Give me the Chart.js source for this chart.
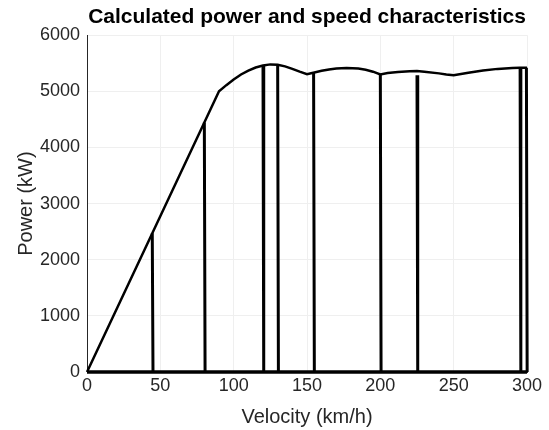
<!DOCTYPE html>
<html>
<head>
<meta charset="utf-8">
<script src="https://cdn.jsdelivr.net/npm/chart.js@4/dist/chart.umd.min.js"></script>
<style>
  html, body { margin: 0; padding: 0; background: #fff; }
  #wrap { width: 549px; height: 430px; }
</style>
</head>
<body>
<div id="wrap"><canvas id="myChart" width="549" height="430"></canvas></div>
<script>
// Огибающая мощности (скорость, км/ч -> мощность, кВт)
const envVelocity = [0, 45, 80, 90, 95, 100, 105, 110, 115, 120, 125, 130, 135, 140, 145, 150,
    155, 160, 165, 170, 177, 185, 190, 195, 200, 205, 212, 220, 225, 230, 240, 245, 250,
    260, 270, 280, 290, 295, 300];
const envPower = [0, 2500, 4444, 5000, 5110, 5210, 5300, 5370, 5425, 5460, 5480, 5475, 5445, 5400, 5350, 5305,
    5335, 5365, 5390, 5405, 5415, 5405, 5385, 5350, 5300, 5325, 5345, 5358, 5360, 5350, 5320, 5300, 5285,
    5330, 5370, 5400, 5415, 5418, 5420];

// Переключения передач: мощность падает до нуля
const shiftVelocity = [44.5, 80, 120, 130, 154.5, 200, 225, 295.3, 299.6];
const shiftTop = [2470, 4444, 5460, 5475, 5340, 5300, 5285, 5415, 5420];

// Короткие повторные участки у самого низа
const partVelocity = [120.7, 80.6];
const partTop = [1600, 1700];

const xTicks = [0, 50, 100, 150, 200, 250, 300];
const yTicks = [0, 1000, 2000, 3000, 4000, 5000, 6000];

const envData = envVelocity.map((v, i) => ({ x: v, y: envPower[i] }));

const shiftData = [];
shiftVelocity.forEach((v, i) => {
    shiftData.push({ x: v, y: shiftTop[i] });
    shiftData.push({ x: v + 0.5, y: 0 });
    shiftData.push({ x: v + 0.5, y: null });
});

const partData = [];
partVelocity.forEach((v, i) => {
    partData.push({ x: v, y: partTop[i] });
    partData.push({ x: v, y: 0 });
    partData.push({ x: v, y: null });
});

const baseData = [{ x: xTicks[0], y: 0 }, { x: xTicks[xTicks.length - 1], y: 0 }];

const axisColor = '#262626';
const font = 'Liberation Sans, Arial, Helvetica, sans-serif';

const lineSet = (data, width) => ({
    data: data,
    borderColor: '#000',
    borderWidth: width,
    pointRadius: 0,
    tension: 0,
    spanGaps: false,
    fill: false,
    clip: 4,
});

new Chart(document.getElementById('myChart'), {
    type: 'line',
    data: {
        datasets: [
            lineSet(baseData, 3.5),
            lineSet(envData, 2.5),
            lineSet(shiftData, 3),
            lineSet(partData, 1.6),
        ]
    },
    options: {
        responsive: false,
        animation: false,
        layout: { padding: { left: 0, right: 22, top: 0, bottom: 0 } },
        plugins: {
            legend: { display: false },
            tooltip: { enabled: false },
            title: {
                display: true,
                fullSize: false,
                text: 'Calculated power and speed characteristics',
                color: '#000',
                font: { family: font, size: 21, weight: 'bold' },
                padding: { top: 5, bottom: 5 },
            }
        },
        scales: {
            x: {
                type: 'linear',
                min: 0,
                max: 300,
                afterBuildTicks: (s) => { s.ticks = xTicks.map(v => ({ value: v })); },
                afterFit: (s) => { s.height = 58; },
                ticks: { color: axisColor, font: { family: font, size: 18 }, padding: 3, callback: (v) => String(v) },
                grid: { color: '#efefef', drawTicks: false },
                border: { display: true, color: axisColor, width: 1 },
                title: {
                    display: true,
                    text: 'Velocity (km/h)',
                    color: axisColor,
                    font: { family: font, size: 20 },
                    padding: { top: 0, bottom: 1 },
                }
            },
            y: {
                min: 0,
                max: 6000,
                afterBuildTicks: (s) => { s.ticks = yTicks.map(v => ({ value: v })); },
                afterFit: (s) => { s.width = 87; },
                ticks: { color: axisColor, font: { family: font, size: 18 }, padding: 7, callback: (v) => String(v) },
                grid: { color: '#efefef', drawTicks: false },
                border: { display: true, color: axisColor, width: 1 },
                title: {
                    display: true,
                    text: 'Power (kW)',
                    color: axisColor,
                    font: { family: font, size: 20 },
                    padding: { top: 14, bottom: 0 },
                }
            }
        }
    }
});
</script>
</body>
</html>
